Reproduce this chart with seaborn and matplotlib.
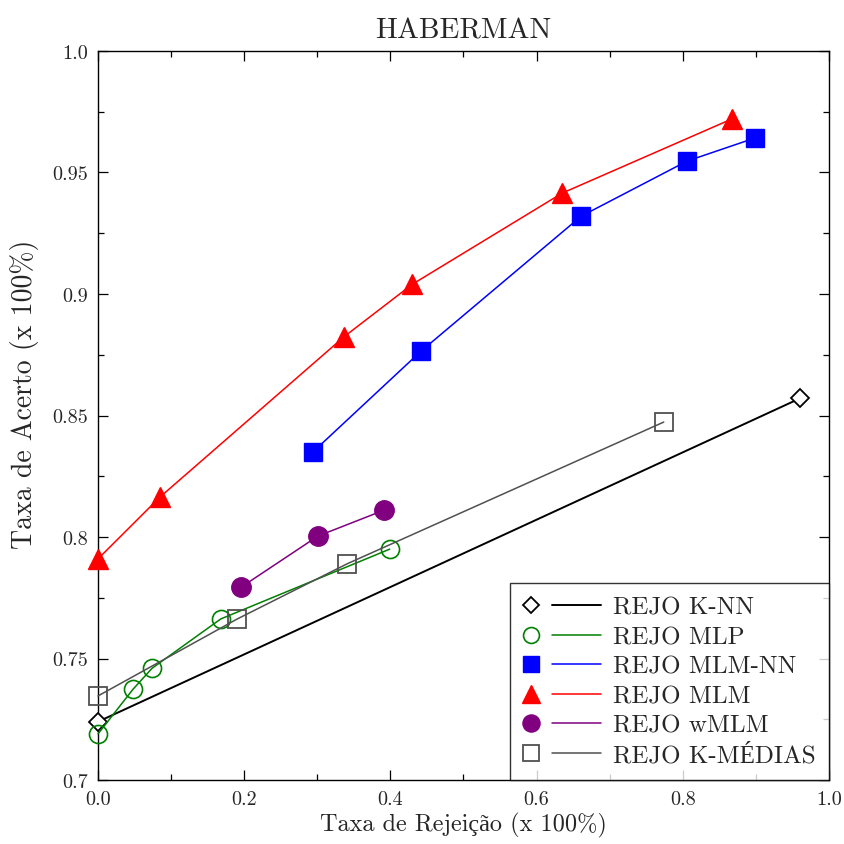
import matplotlib
matplotlib.use("Agg")
import matplotlib.pyplot as plt
import seaborn as sns
import pandas as pd
from matplotlib.lines import Line2D
from matplotlib.legend_handler import HandlerBase
from matplotlib.ticker import MultipleLocator, FixedLocator, FixedFormatter

sns.set_style("white")
plt.rcParams['font.family'] = ['cmr10', 'Liberation Serif']
plt.rcParams['axes.formatter.use_mathtext'] = True

# Data
knn_x = [0.0, 0.960]
knn_y = [0.724, 0.857]
mlp_x = [0.0, 0.048, 0.074, 0.168, 0.399]
mlp_y = [0.719, 0.7374, 0.746, 0.7663, 0.795]
mlmnn_x = [0.294, 0.442, 0.661, 0.806, 0.899]
mlmnn_y = [0.835, 0.8765, 0.932, 0.9547, 0.9642]
mlm_x = [0.0, 0.085, 0.337, 0.430, 0.635, 0.867]
mlm_y = [0.791, 0.8165, 0.8825, 0.904, 0.9415, 0.972]
wmlm_x = [0.196, 0.301, 0.391]
wmlm_y = [0.7794, 0.8004, 0.811]
kmed_x = [0.0, 0.190, 0.341, 0.774]
kmed_y = [0.7346, 0.7662, 0.789, 0.8473]

labels = ["REJO K-NN", "REJO MLP", "REJO MLM-NN", "REJO MLM", "REJO wMLM", "REJO K-MÉDIAS"]
xticks = [0.0, 0.2, 0.4, 0.6, 0.8, 1.0]
xticklabels = ["0.0", "0.2", "0.4", "0.6", "0.8", "1.0"]
yticks = [0.7, 0.75, 0.8, 0.85, 0.9, 0.95, 1.0]
yticklabels = ["0.7", "0.75", "0.8", "0.85", "0.9", "0.95", "1.0"]

series = [
    (knn_x, knn_y, dict(color="black", marker="D", ms=9, mfc="white", mec="black", mew=1.3, lw=1.4)),
    (mlp_x, mlp_y, dict(color="#008000", marker="o", ms=13, mfc="none", mec="#008000", mew=1.2, lw=1.1)),
    (mlmnn_x, mlmnn_y, dict(color="#0000ff", marker="s", ms=13, mfc="#0000ff", mec="#0000ff", mew=1.0, lw=1.1)),
    (mlm_x, mlm_y, dict(color="#ff0000", marker="^", ms=15, mfc="#ff0000", mec="#ff0000", mew=1.0, lw=1.1)),
    (wmlm_x, wmlm_y, dict(color="#800080", marker="o", ms=14, mfc="#800080", mec="#800080", mew=1.0, lw=1.1)),
    (kmed_x, kmed_y, dict(color="#505050", marker="s", ms=13, mfc="none", mec="#505050", mew=1.3, lw=1.1)),
]


class MarkerThenLine(HandlerBase):
    def __init__(self, st, **kw):
        super().__init__(**kw)
        self.st = st

    def create_artists(self, legend, orig_handle, xdescent, ydescent, width, height, fontsize, trans):
        st = orig_handle.st
        yc = height / 2 - ydescent
        mx = -xdescent + 0.10 * width
        m = Line2D([mx], [yc], linestyle="none", marker=st["marker"],
                   markersize=st["ms"] * 0.88, markerfacecolor=st["mfc"],
                   markeredgecolor=st["mec"], markeredgewidth=st["mew"], transform=trans)
        l = Line2D([-xdescent + 0.37 * width, -xdescent + width], [yc, yc],
                   color=st["color"], linewidth=st["lw"], transform=trans)
        return [m, l]


class Proxy:
    def __init__(self, st):
        self.st = st


fig = plt.figure(figsize=(8.45, 8.45), dpi=100)
ax = fig.add_axes([0.116, 0.0757, 0.865, 0.8628])

handles = []
hmap = {}
for (xs, ys, st), lab in zip(series, labels):
    df = pd.DataFrame({"x": xs, "y": ys})
    sns.lineplot(data=df, x="x", y="y", ax=ax, sort=False, estimator=None,
                 color=st["color"], linewidth=st["lw"], marker=st["marker"],
                 markersize=st["ms"], markerfacecolor=st["mfc"],
                 markeredgecolor=st["mec"], markeredgewidth=st["mew"],
                 legend=False, clip_on=False, zorder=3)
    p = Proxy(st)
    handles.append(p)
    hmap[p] = MarkerThenLine(st)

ax.set_xlim(0, 1)
ax.set_ylim(0.7, 1.0)
ax.xaxis.set_major_locator(FixedLocator(xticks))
ax.xaxis.set_major_formatter(FixedFormatter(xticklabels))
ax.yaxis.set_major_locator(FixedLocator(yticks))
ax.yaxis.set_major_formatter(FixedFormatter(yticklabels))
ax.xaxis.set_minor_locator(MultipleLocator(0.1))
ax.yaxis.set_minor_locator(MultipleLocator(0.025))
ax.tick_params(which="both", direction="in", top=True, right=True, bottom=True, left=True,
               labelsize=14.5, color="black", width=0.9)
ax.tick_params(which="major", length=7, pad=7)
ax.tick_params(which="minor", length=4)
for sp in ax.spines.values():
    sp.set_color("black")
    sp.set_linewidth(1.0)

ax.set_xlabel("Taxa de Rejeição (x 100%)", fontsize=17.5, labelpad=3)
ax.set_ylabel("Taxa de Acerto (x 100%)", fontsize=20)
ax.yaxis.set_label_coords(-0.081, 0.53)
ax.set_title("HABERMAN", fontsize=21, pad=10)

leg = ax.legend(handles, labels, handler_map=hmap,
                loc="lower right", bbox_to_anchor=(1.0, 0.0), borderaxespad=0,
                fontsize=18, handlelength=3.12, handletextpad=0.45, labelspacing=0.28,
                frameon=True, fancybox=False, edgecolor="black", borderpad=0.55)
leg.get_frame().set_linewidth(1.0)

fig.savefig("out.png", dpi=100)
